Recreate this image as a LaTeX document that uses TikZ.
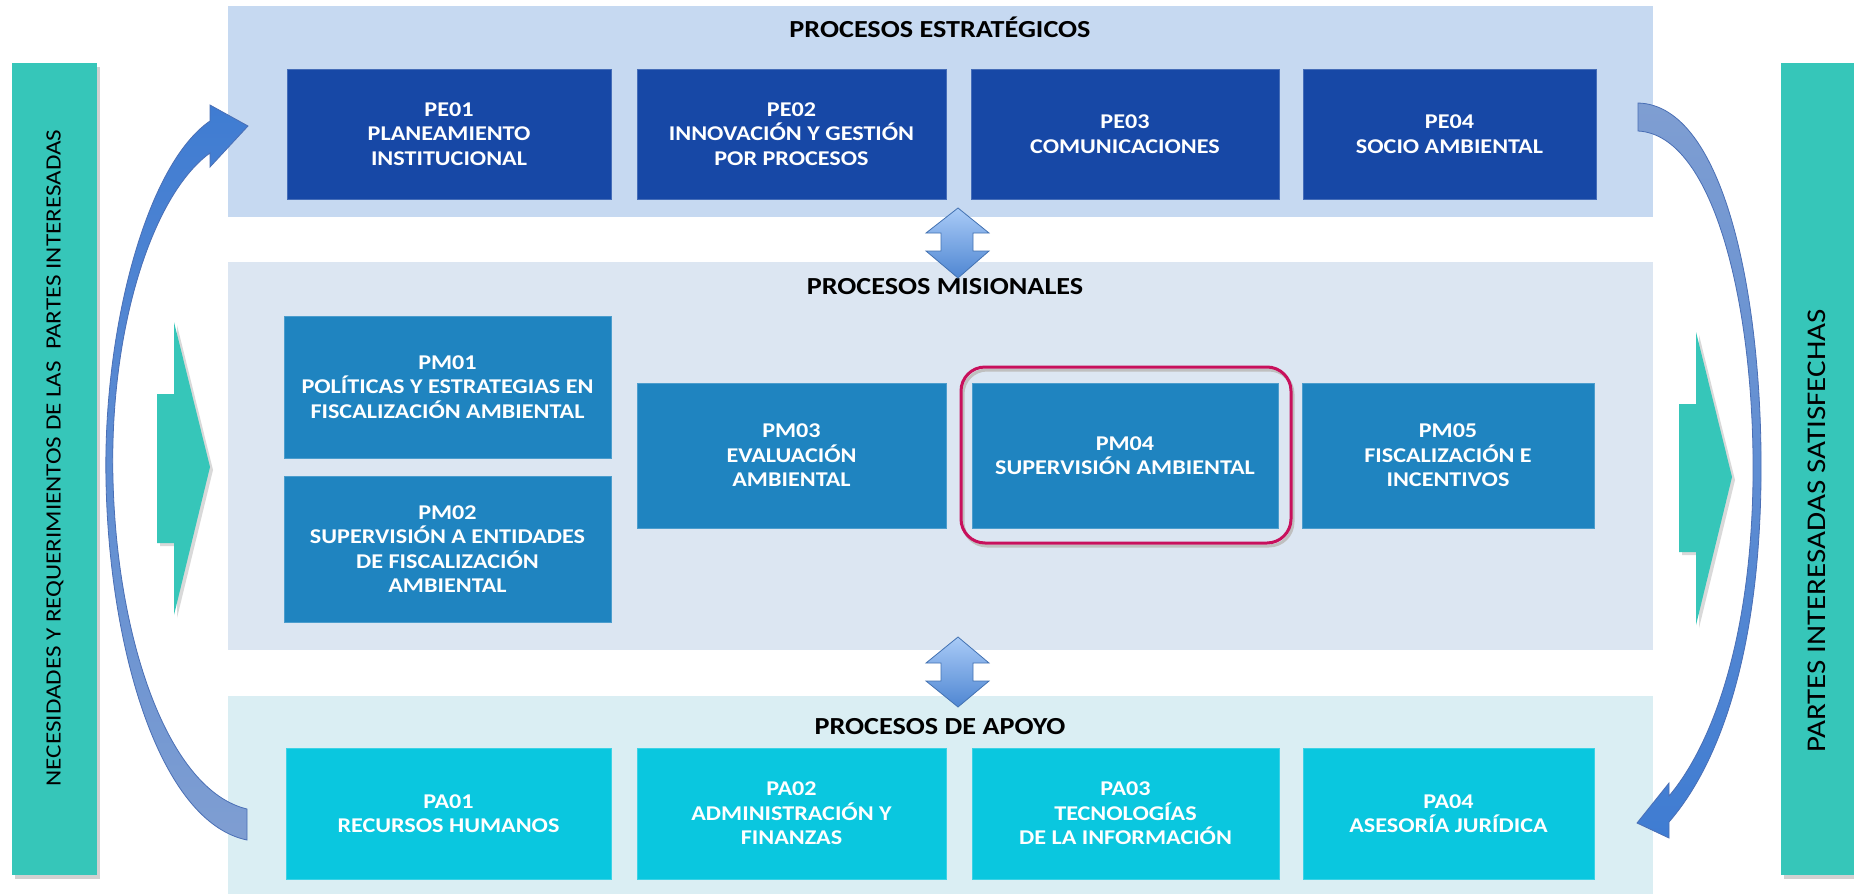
\documentclass[tikz,border=0pt]{standalone}
\usepackage{fontspec}
\setmainfont{Carlito}[FakeStretch=1.15]
\definecolor{panelA}{HTML}{C6D9F1}
\definecolor{panelB}{HTML}{DCE6F2}
\definecolor{panelC}{HTML}{DAEEF3}
\definecolor{peblue}{HTML}{1748A6}
\definecolor{pmblue}{HTML}{1F84C0}
\definecolor{pacyan}{HTML}{0AC7DF}
\definecolor{tealc}{HTML}{36C6B9}
\definecolor{hilite}{HTML}{C8105C}
\definecolor{arrA}{HTML}{3F7CD2}
\definecolor{arrB}{HTML}{7F9ED2}
\definecolor{arrEdge}{HTML}{4A6FB5}
\definecolor{dblTop}{HTML}{A9CBF7}
\definecolor{dblBot}{HTML}{4F86D2}
\newcommand\mybxfont{\bfseries\fontsize{21bp}{24.5bp}\selectfont}
\newcommand\myttlfont{\bfseries\fontsize{24.5bp}{29bp}\selectfont}
\newcommand\mysidefont{\fontsize{21.8bp}{25bp}\selectfont}
\newcommand\mysidefontB{\fontsize{27bp}{31bp}\selectfont}
\begin{document}
\begin{tikzpicture}[x=1bp,y=-1bp,
  procbox/.style={text=white, font=\mybxfont, align=center, inner sep=0pt, line width=0.8bp},
  pebox/.style={procbox, fill=peblue, draw=peblue!80!white, minimum height=130bp},
  pmbox/.style={procbox, fill=pmblue, draw=pmblue!80!white},
  pabox/.style={procbox, fill=pacyan, draw=pacyan!80!white, minimum height=131bp},
  ttl/.style={font=\myttlfont, text=black, inner sep=0pt},
  sidetxt/.style={text=black, inner sep=0pt, rotate=90},
  dblarrow/.style={top color=dblTop, bottom color=dblBot, draw=dblBot!85!black, line width=0.8bp},
  curvarrow/.style={draw=arrEdge, line width=0.8bp},
  chevron/.style={fill=tealc},
  sidebar/.style={fill=tealc}
]
\useasboundingbox (0,0) rectangle (1854,894);
\fill[white] (0,0) rectangle (1854,894);

% side bars
\fill[black!18] (15,67) rectangle (100,879);
\fill[black!18] (1784,67) rectangle (1858,879);
\fill[sidebar] (12,63) rectangle (97,875);
\fill[sidebar] (1781,63) rectangle (1860,875);
\node[sidetxt, font=\mysidefont] (lefttxt) at (55,458) {NECESIDADES Y REQUERIMIENTOS DE LAS\ \ PARTES INTERESADAS};
\node[sidetxt, font=\mysidefontB] (righttxt) at (1817,531) {PARTES INTERESADAS SATISFECHAS};

% panels
\fill[panelA] (228,6) rectangle (1653,217);
\fill[panelB] (228,262) rectangle (1653,650);
\fill[panelC] (228,696) rectangle (1653,894);

\node[ttl] (t1) at (940,27) {PROCESOS ESTRATÉGICOS};
\node[ttl] (t2) at (945,287) {PROCESOS MISIONALES};
\node[ttl] (t3) at (940,727) {PROCESOS DE APOYO};

% strategic
\node[pebox, minimum width=324bp] (pe1) at (449,134) {PE01\\PLANEAMIENTO\\INSTITUCIONAL};
\node[pebox, minimum width=309bp] (pe2) at (791.5,134) {PE02\\INNOVACIÓN Y GESTIÓN\\POR PROCESOS};
\node[pebox, minimum width=308bp] (pe3) at (1125,134) {PE03\\COMUNICACIONES};
\node[pebox, minimum width=293bp] (pe4) at (1449.5,134) {PE04\\SOCIO AMBIENTAL};

% missional
\node[pmbox, minimum width=327bp, minimum height=142bp] (pm1) at (447.5,387) {PM01\\POLÍTICAS Y ESTRATEGIAS EN\\FISCALIZACIÓN AMBIENTAL};
\node[pmbox, minimum width=327bp, minimum height=146bp] (pm2) at (447.5,549) {PM02\\SUPERVISIÓN A ENTIDADES\\DE FISCALIZACIÓN\\AMBIENTAL};
\node[pmbox, minimum width=309bp, minimum height=145bp] (pm3) at (791.5,455.5) {PM03\\EVALUACIÓN\\AMBIENTAL};
\node[pmbox, minimum width=306bp, minimum height=145bp] (pm4) at (1125,455.5) {PM04\\SUPERVISIÓN AMBIENTAL};
\node[pmbox, minimum width=292bp, minimum height=145bp] (pm5) at (1448,455.5) {PM05\\FISCALIZACIÓN E\\INCENTIVOS};
\draw[black!25, line width=3bp, rounded corners=24bp] (963,370) rectangle (1293,546);
\draw[hilite, line width=3bp, rounded corners=24bp] (961,367) rectangle (1291,543);

% support
\node[pabox, minimum width=325bp] (pa1) at (448.5,813.5) {PA01\\RECURSOS HUMANOS};
\node[pabox, minimum width=309bp] (pa2) at (791.5,813.5) {PA02\\ADMINISTRACIÓN Y\\FINANZAS};
\node[pabox, minimum width=307bp] (pa3) at (1125.5,813.5) {PA03\\TECNOLOGÍAS\\DE LA INFORMACIÓN};
\node[pabox, minimum width=291bp] (pa4) at (1448.5,813.5) {PA04\\ASESORÍA JURÍDICA};

% double arrows between panels
\shadedraw[dblarrow] (958,208) -- (989,233) -- (973,233) -- (973,251) -- (989,251) -- (958,278)
  -- (926,251) -- (941,251) -- (941,233) -- (926,233) -- cycle;
\shadedraw[dblarrow] (958,637) -- (989,663) -- (973,663) -- (973,681) -- (989,681) -- (958,707)
  -- (926,681) -- (941,681) -- (941,663) -- (926,663) -- cycle;

% teal chevrons
\fill[black!15] (160,397) -- (177,397) -- (177,325) -- (213,470) -- (177,618) -- (177,546) -- (160,546) -- cycle;
\fill[chevron] (157,394) -- (174,394) -- (174,322) -- (210,467) -- (174,615) -- (174,543) -- (157,543) -- cycle;
\fill[black!15] (1682,407) -- (1699,407) -- (1699,335) -- (1735,480) -- (1699,628) -- (1699,555) -- (1682,555) -- cycle;
\fill[chevron] (1679,404) -- (1696,404) -- (1696,332) -- (1732,477) -- (1696,625) -- (1696,552) -- (1679,552) -- cycle;

% curved arrows
\shadedraw[curvarrow, top color=arrA, bottom color=arrB]
  (247,809) .. controls (168,790) and (117,640) .. (113,480)
  .. controls (109,330) and (152,195) .. (210,153)
  -- (210,167) -- (248,126) -- (210,105) -- (210,121)
  .. controls (146,165) and (103,330) .. (106,480)
  .. controls (109,650) and (160,822) .. (247,840) -- cycle;
\shadedraw[curvarrow, top color=arrB, bottom color=arrA]
  (1638,103) .. controls (1725,105) and (1763,300) .. (1761,480)
  .. controls (1759,650) and (1721,762) .. (1669,822)
  -- (1669,838) -- (1637,823) -- (1669,783) -- (1669,796)
  .. controls (1712,745) and (1751,640) .. (1753,480)
  .. controls (1755,310) and (1715,135) .. (1638,131) -- cycle;
\end{tikzpicture}
\end{document}
